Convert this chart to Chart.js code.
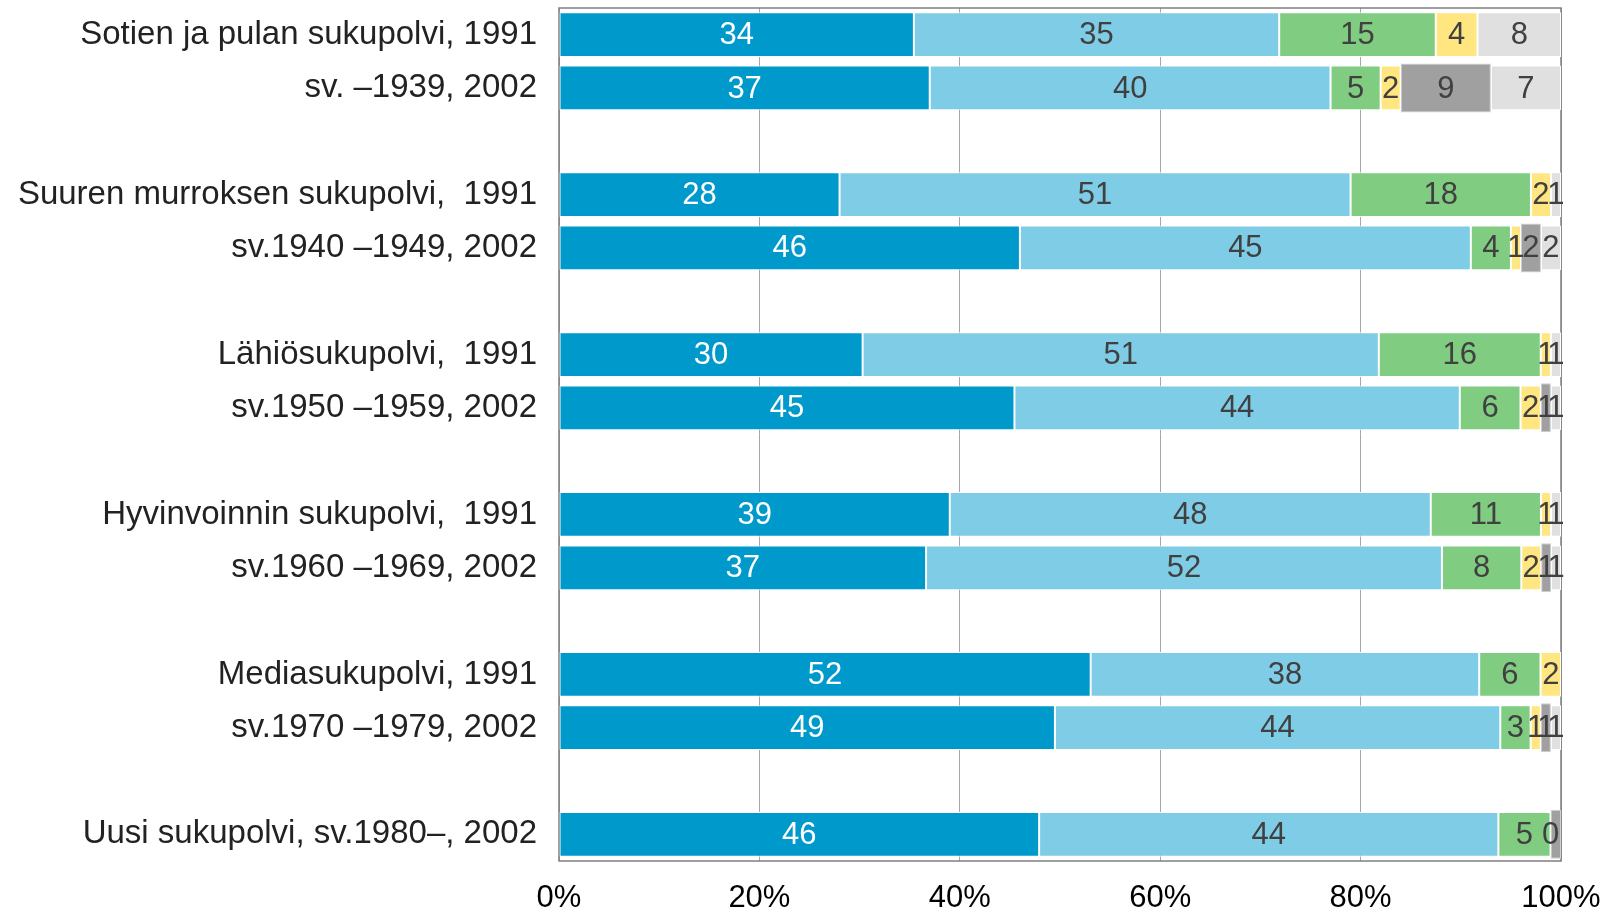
<!DOCTYPE html>
<html>
<head>
<meta charset="utf-8">
<script src="https://cdn.jsdelivr.net/npm/chart.js@4.4.0/dist/chart.umd.min.js"></script>
<style>
  html, body { margin: 0; padding: 0; background: #fff; }
  #wrap { width: 1611px; height: 913px; }
</style>
</head>
<body>
<div id="wrap"><canvas id="myChart" width="1611" height="913"></canvas></div>
<script>
// row labels, '' = empty spacer row between the generation pairs
const rows = [
  'Sotien ja pulan sukupolvi, 1991', 'sv. \u20131939, 2002', '',
  'Suuren murroksen sukupolvi,  1991', 'sv.1940 \u20131949, 2002', '',
  'L\u00e4hi\u00f6sukupolvi,  1991', 'sv.1950 \u20131959, 2002', '',
  'Hyvinvoinnin sukupolvi,  1991', 'sv.1960 \u20131969, 2002', '',
  'Mediasukupolvi, 1991', 'sv.1970 \u20131979, 2002', '',
  'Uusi sukupolvi, sv.1980\u2013, 2002'
];

// values (each bar is scaled to 100 %)
const s1 = [34, 37, null, 28, 46, null, 30, 45, null, 39, 37, null, 52, 49, null, 46];
const s2 = [35, 40, null, 51, 45, null, 51, 44, null, 48, 52, null, 38, 44, null, 44];
const s3 = [15, 5, null, 18, 4, null, 16, 6, null, 11, 8, null, 6, 3, null, 5];
const s4 = [4, 2, null, 2, 1, null, 1, 2, null, 1, 2, null, 2, 1, null, 0];
const s5 = [null, 9, null, null, 2, null, null, 1, null, null, 1, null, null, 1, null, 1];
const s6 = [8, 7, null, 1, 2, null, 1, 1, null, 1, 1, null, null, 1, null, null];
const series = [s1, s2, s3, s4, s5, s6];

const colors = ['#0099cc', '#7fcce6', '#80cc80', '#ffe680', '#a0a0a0', '#e0e0e0'];
const xTicks = [0, 20, 40, 60, 80, 100];

// value labels that are not printed (dataset, row)
const hiddenLabels = [[4, 15]];

const totals = rows.map((r, i) => series.reduce((a, s) => a + (s[i] || 0), 0));

const datasets = series.map((s, d) => ({
  data: s.map((v, i) => v === null ? null : v / totals[i] * 100),
  raw: s,
  backgroundColor: colors[d],
  borderColor: d === 4 ? '#d0d0d0' : '#ffffff',
  borderWidth: 1,
  borderSkipped: false,
  barPercentage: d === 4 ? 0.92 : 0.84,
  categoryPercentage: 1
}));

const frame = {
  id: 'frame',
  beforeDatasetsDraw(chart) {
    const a = chart.chartArea, ctx = chart.ctx;
    ctx.save();
    ctx.strokeStyle = '#7f7f7f';
    ctx.lineWidth = 1.5;
    ctx.strokeRect(a.left, a.top, a.right - a.left, a.bottom - a.top);
    ctx.restore();
  }
};

const valueLabels = {
  id: 'valueLabels',
  afterDatasetsDraw(chart) {
    const ctx = chart.ctx;
    ctx.save();
    ctx.font = '31px "Liberation Sans", Arial, sans-serif';
    ctx.textAlign = 'center';
    ctx.textBaseline = 'middle';
    chart.data.datasets.forEach((ds, d) => {
      const meta = chart.getDatasetMeta(d);
      meta.data.forEach((el, i) => {
        const v = ds.raw[i];
        if (v === null) return;
        if (hiddenLabels.some(h => h[0] === d && h[1] === i)) return;
        ctx.fillStyle = d === 0 ? '#ffffff' : '#404040';
        ctx.fillText(String(v), (el.x + el.base) / 2, el.y + 1);
      });
    });
    ctx.restore();
  }
};

new Chart(document.getElementById('myChart').getContext('2d'), {
  type: 'bar',
  data: { labels: rows, datasets: datasets },
  options: {
    indexAxis: 'y',
    responsive: false,
    animation: false,
    layout: { autoPadding: false, padding: { left: 0, right: 50, top: 8, bottom: 0 } },
    plugins: { legend: { display: false }, tooltip: { enabled: false } },
    scales: {
      x: {
        stacked: true,
        min: 0,
        max: 100,
        afterBuildTicks: (scale) => { scale.ticks = xTicks.map(v => ({ value: v })); },
        afterFit: (scale) => {
          scale.height = 52;
          scale.paddingLeft = 0;
          scale.paddingRight = 0;
        },
        border: { display: false },
        grid: { color: '#a6a6a6', lineWidth: 1, drawTicks: false },
        ticks: {
          padding: 19,
          color: '#000000',
          font: { family: '"Liberation Sans", Arial, sans-serif', size: 31 },
          callback: (v) => v + '%'
        }
      },
      y: {
        stacked: true,
        afterFit: (scale) => {
          scale.width = 559;
          scale.paddingTop = 0;
          scale.paddingBottom = 0;
        },
        border: { display: false },
        grid: { display: false, drawTicks: false },
        ticks: {
          padding: 22,
          color: '#222222',
          autoSkip: false,
          font: { family: '"Liberation Sans", Arial, sans-serif', size: 33 }
        }
      }
    }
  },
  plugins: [frame, valueLabels]
});
</script>
</body>
</html>
